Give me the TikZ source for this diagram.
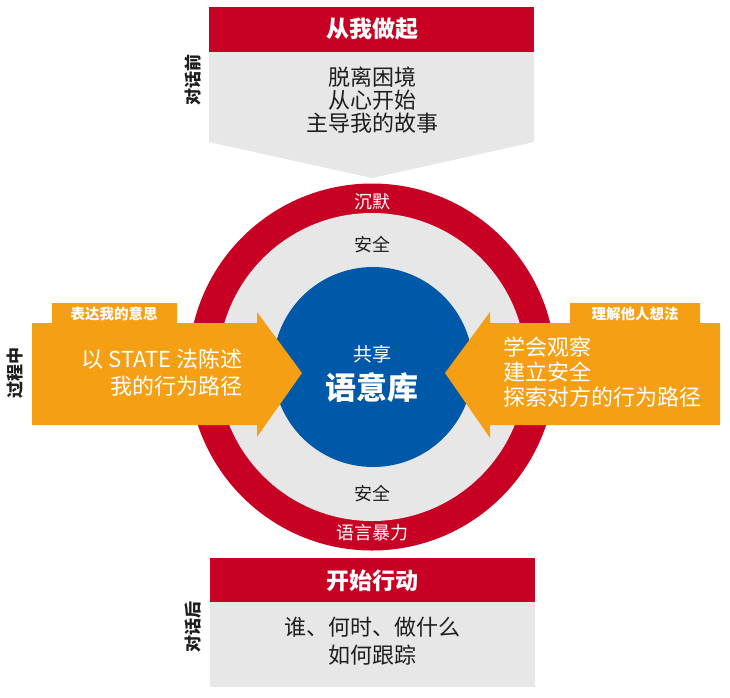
\documentclass[tikz,border=0pt]{standalone}
\usepackage{fontspec}
\setmainfont{Noto Sans CJK SC}
\definecolor{talkred}{RGB}{200,0,35}
\definecolor{talkgray}{RGB}{231,231,231}
\definecolor{poolblue}{RGB}{0,88,168}
\definecolor{talkorange}{RGB}{245,160,20}
\definecolor{inktext}{RGB}{30,30,30}

\begin{document}
\begin{tikzpicture}[x=1pt, y=-1pt,
    every node/.style={inner sep=0pt},
    head/.style={text=white, font=\fontsize{23}{26}\selectfont\bfseries},
    body/.style={text=inktext, align=center},
    side/.style={rotate=90, text=inktext, font=\fontsize{17}{17}\selectfont\bfseries},
    tab/.style={text=white, font=\fontsize{14.5}{14.5}\selectfont\bfseries},
    ring/.style={font=\fontsize{18}{18}\selectfont}]
  \fill[white] (0,0) rectangle (730,697);
  \useasboundingbox (0,0) rectangle (730,697);
  % circle: silence / safety / pool / violence
  \fill[talkred] (372,367) circle (183.5);
  \fill[talkgray] (372,367) circle (154);
  \fill[poolblue] (373,367) circle (100);
  \node[ring, text=white] (silence) at (372,202) {沉默};
  \node[ring, text=inktext] (safetop) at (372,245) {安全};
  \node[ring, text=inktext] (safebot) at (372,494) {安全};
  \node[ring, text=white] (violence) at (372,533) {语言暴力};
  \node[text=white, font=\fontsize{19}{19}\selectfont] (share) at (372,354) {共享};
  \node[text=white, font=\fontsize{31}{31}\selectfont\bfseries] (pool) at (372,388) {语意库};
  % before: start with me
  \fill[talkred] (209,7) rectangle (534,52);
  \fill[talkgray] (209,52) -- (534,52) -- (534,142) -- (372,178) -- (209,142) -- cycle;
  \node[head] (startme) at (372,29) {从我做起};
  \node[body, font=\fontsize{22}{23}\selectfont] (heart) at (372,100) {脱离困境\\从心开始\\主导我的故事};
  \node[side] (before) at (193,80) {对话前};
  % during: left and right arrows
  \fill[talkorange] (32,323) -- (52,323) -- (52,303) -- (177,303) -- (177,323) -- (257,323)
        -- (257,312) -- (302,373) -- (257,437) -- (257,425) -- (32,425) -- cycle;
  \fill[talkorange] (720,323) -- (700,323) -- (700,303) -- (570,303) -- (570,323) -- (490,323)
        -- (490,312) -- (445,373) -- (490,438) -- (490,425) -- (720,425) -- cycle;
  \node[tab] (speak) at (114,314) {表达我的意思};
  \node[tab] (listen) at (635,314) {理解他人想法};
  \node[anchor=east, align=right, text=white, font=\fontsize{22}{27}\selectfont] (state) at (243,373)
        {以 STATE 法陈述\\我的行为路径};
  \node[anchor=west, align=left, text=white, font=\fontsize{22}{25}\selectfont] (observe) at (503,372)
        {学会观察\\建立安全\\探索对方的行为路径};
  \node[side] (during) at (15,373) {过程中};
  % after: take action
  \fill[talkred] (210,558) rectangle (535,602);
  \fill[talkgray] (210,602) rectangle (535,687);
  \node[head] (action) at (372,581) {开始行动};
  \node[body, font=\fontsize{22}{28}\selectfont] (who) at (372,641) {谁、何时、做什么\\如何跟踪};
  \node[side] (after) at (193,627) {对话后};
\end{tikzpicture}
\end{document}
